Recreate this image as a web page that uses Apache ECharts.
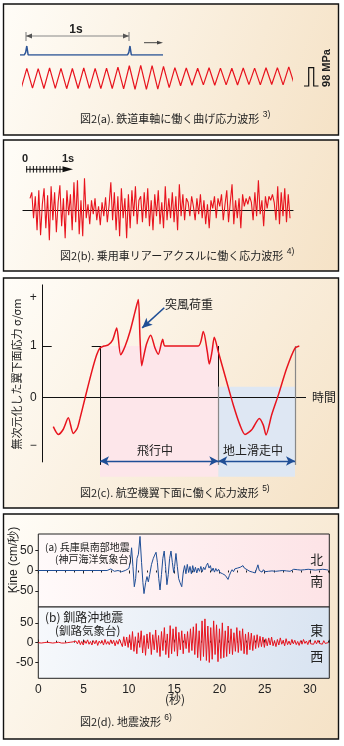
<!DOCTYPE html>
<html><head><meta charset="utf-8">
<script src="https://cdn.jsdelivr.net/npm/echarts@6/dist/echarts.min.js"></script>
<style>html,body{margin:0;padding:0;background:#fff;}#c{width:344px;height:746px;}</style>
</head><body><div id="c"></div>
<script>
// ---------- Panel (a): railway axle bending stress ----------
const pulseTime  = [-0.6, -0.22, -0.1, 0, 0.12, 8.84, 8.96, 9.06, 9.18, 11.96]; // cycles
const pulseLevel = [0, 0, 0.3, 1, 0, 0, 0.3, 1, 0, 0];
// alternating trough / peak values (MPa), one every half cycle starting at -0.5 cycle
const axleStress = [-60, 50,-58, 48,-60, 52,-59, 50,-61, 49,-60, 52,-59, 50,-61, 51,-60, 56,-62,
  64,-64, 66,-65, 65,-63, 60,-55, 54,-45, 52,-42, 50,-40, 53,-42, 51,-40, 50,-41, 52,-39, 51,-40,
  53,-38, 54,-40, 58,-40];
// ---------- Panel (b): car rear axle stress ----------
const rearAxleStress = [12, 18, -8, 14, -20, 20, -25, 6, 22, -18, 15, -30, 24, -10, 18, -22, 8, 25, -16, 12, -28, 20, -5, 16, -20, 28, -12, 30, -24, 10, -26, 32,
  -8, 6, -14, 10, -4, 12, -10, 4, -15, 8, -6, 13, -12, 5,
  28, -10, 18, -20, 14, -26, 22, -8, 12, -28, 16, -18, 20, -6, 24, -14, 10,
  14, -12, 18, -8, 22, -16, 10, -20, 16, -6, 20, -14, 8, -18, 24, -10, 12, -8, 18, -12, 14, -20, 26, -6, 16, -10, 12,
  8, -6, 14, 4, -10, 12, -4, 16, -8, 10, -14, 6, -18, 10, 2, 14, -8, 12, 4, 16, -10, 6, 20,
  -12, 8, 26, -14, 10, -8, 12, -18, 16, 4, 12, 6, 14, 8, -10, 18, -6, 30, -4, 10, -16, 14, 2, 14, 10, 16, 8, -10, 24, -14, 18, -6, 22, -12, 16, -8];
// ---------- Panel (c): aircraft lower wing stress ----------
const wingTime = [10.6,15.6,20.6,25.6,30.6,34.6,37.3,42.3,49,54,57.3,61.3,65.6,70,74,78,82.3,87.3,92.3,95.6,97.3,99,101.3,104,108,112.3,115.6,120,122.3,155.6,160.6,164.6,166.6,169.3,171.6,175.6,184,190.6,197.3,202.3,209,216.6,220.6,223.3,229,235.6,244,252.3,256.6];
const wingStress = [-0.56,-0.71,-0.61,-0.39,-0.69,-0.59,-0.40,-0.01,0.50,0.83,0.96,1.0,1.02,1.12,1.35,0.83,0.99,1.28,1.66,1.90,1.15,0.62,0.83,1.05,1.21,0.96,0.84,1.13,1.0,1.0,1.28,0.89,0.65,0.89,1.17,0.89,0.31,-0.14,-0.53,-0.71,-0.62,-0.40,-0.53,-0.72,-0.33,0.05,0.57,0.96,1.0];
const flightStart = 57.3, flightEnd = 175.6, taxiEnd = 252.3;
const wingTicks = [-0.93, 0, 1, 1.94];
const wingTickLabels = ['−', '0', '1', '+'];
// ---------- Panel (d): earthquake waves ----------
const kobeTime = [0,7.6,7.8,8.0,8.2,8.4,8.6,8.8,9.0,9.2,9.4,9.6,9.8,10.0,10.15,10.3,10.45,10.6,10.75,10.9,11.05,11.23,11.4,11.55,11.67,11.85,12.0,12.15,12.3,12.5,12.7,12.85,13.0,13.15,13.3,13.44,13.6,13.75,13.9,14.05,14.2,14.35,14.5,14.65,14.8,14.95,15.05,15.2,15.35,15.5,15.65,15.84,16.0,16.15,16.3,16.45,16.6,16.75,16.9,17.05,17.2,17.35,17.5,17.65,17.8,17.95,18.1,18.25,18.4,18.55,18.7,18.85,19.0,19.15,19.3,19.45,19.6,19.75,19.9,20.05,20.2,20.35,20.5,20.65,20.8,20.95,21.1,21.25,21.4,21.55,21.7,21.85,22.0,22.15,22.3,22.45,22.6,22.75,22.9,23.05,23.2,23.35,23.5,23.65,23.8,23.95,24.1,24.25,24.4,24.55,24.7,24.85,25.0,25.2,25.4,25.6,25.8,26.0,26.2,26.4,26.6,26.8,27.0,27.2,27.4,27.6,27.8,28.0,28.2,28.4,28.6,28.8,29.0,29.2,29.4,29.6,29.8,30.0,30.2,30.4,30.6,30.8,31.0,31.2,31.4,31.6,31.8,32.0];
const kobeVel = [0,0,2,4,1,-2,-3,0,-1,-3,-1,0,2,5,20,56,10,-40,-20,30,40,84,20,-30,-57,-30,-15,-28,-10,15,30,38,45,20,-20,-48,-10,30,48,10,-35,-10,30,48,20,-5,10,42,10,-20,-30,-40,-5,12,-8,15,-5,10,-8,12,-4,8,-6,6,-2,10,-3,8,2,12,18,6,12,-2,6,-4,5,-2,3,-5,-2,-8,-6,-12,-16,-22,-12,-4,2,-3,4,0,6,2,8,4,12,6,10,2,5,-2,2,-4,0,-6,-2,14,0,4,-4,2,-3,1,-2,2,-1,1,-2,2,-1,3,0,2,-1,1,-2,2,3,0,2,-1,1,-2,2,0,3,1,2,-1,1,0,2,1,3,0,2,1];
const kushiroStep = 0.16; // s between samples
const kushiroVel = [0,1,-1,1,0,-1,1,-1,0,1,-1,1,0,-1,1,0,-1,2,-1,1,0,-2,1,-1,2,-1,
  4,-3,6,-5,3,-6,5,-2,7,-4,3,-6,5,-3,6,-7,4,-2,5,-6,8,-4,3,-5,7,-3,6,-8,5,-4,9,
  12,-10,15,-8,14,-12,
  20,-18,28,-22,15,-28,25,-12,30,-26,18,-32,22,-15,26,-30,20,-18,
  32,-25,18,-35,28,-20,38,-30,22,-38,43,-28,35,-22,40,-34,26,-18,30,-28,22,-15,28,-25,35,-20,
  40,-30,48,-38,30,-45,55,-35,60,-45,42,-50,38,-42,55,-30,45,-48,35,-40,50,-38,30,-35,42,-28,35,-30,25,-22,38,
  -25,30,-20,35,-28,22,-30,26,-18,24,-20,18,-15,20,-12,16,-10,14,
  -12,10,-8,12,-6,14,-8,5,-10,8,-6,12,-4,6,-8,10,-5,4,-6,8,-3,6,-5,3,-7,5,-4,8,-2,4,-5,6,-3,2,-4,5,-3,6,-2,3,-4,5,-2,3,0];
const quakeTicks = [-50, 0, 50];

const JP = '"Noto Sans CJK JP", "Noto Sans", sans-serif';
const LAT = '"Liberation Sans", Arial, sans-serif';
const RED = '#e8141e', NAVY = '#1f4e96', INK = '#222';

const boxFill = {type:'linear', x:0, y:0, x2:1, y2:1, colorStops:[{offset:0,color:'#fffdf8'},{offset:1,color:'#f5e2c6'}]};
function box(y, h) {
  return {type:'rect', z:-10, shape:{x:3.5, y:y, width:335, height:h}, style:{fill:boxFill, stroke:'#111', lineWidth:1.4}};
}
function txt(x, y, s, size, opt) {
  opt = opt || {};
  return {type:'text', z:50, x:x, y:y, rotation: opt.rot || 0,
    style:{text:s, fontSize:size, fontFamily: opt.font || JP, fontWeight: opt.bold ? 'bold' : 'normal', fill: opt.color || INK,
      align: opt.align || 'left', verticalAlign:'middle', textAlign: opt.align || 'left', textVerticalAlign:'middle'}};
}
function cap(x, y, main, sup) {
  return {type:'text', z:50, x:x, y:y, style:{
    text:'{m|' + main + '}{s|' + sup + '}', fontFamily: JP, fill: INK, verticalAlign:'middle', textVerticalAlign:'middle',
    rich:{m:{fontSize:11, fontFamily:JP, color:'#1a1a1a'}, s:{fontSize:8.5, fontFamily:LAT, color:'#1a1a1a', padding:[0,0,8,1]}}}};
}
function line(x1,y1,x2,y2,color,w){ return {type:'line', z:40, shape:{x1,y1,x2,y2}, style:{stroke:color, lineWidth:w||1}}; }
function tri(pts,color){ return {type:'polygon', z:40, shape:{points:pts}, style:{fill:color}}; }

const graphics = [
  box(4,131), box(140,131), box(278,230), box(514,225),
  // panel a annotations
  line(26,36,129,36,'#888',1), line(26,32,26,41,'#777',1), line(129,32,129,41,'#777',1),
  tri([[26,36],[32,33.6],[32,38.4]],'#555'), tri([[129,36],[123,33.6],[123,38.4]],'#555'),
  txt(76,30,'1s',12,{font:LAT,bold:true,align:'center'}),
  line(144,42.7,158,42.7,'#444',1), tri([[163,42.7],[157,40.8],[157,44.6]],'#444'),
  {type:'polyline', z:40, shape:{points:[[304,86],[308.7,86],[308.7,67.7],[313.7,67.7],[313.7,86],[318.5,86]]}, style:{stroke:'#111', lineWidth:1.2, fill:null}},
  txt(326.5,68,'98 MPa',11,{font:LAT,bold:true,align:'center',rot:Math.PI/2}),
  cap(80,119,'図2(a). 鉄道車軸に働く曲げ応力波形 ','3)'),
  // panel b annotations
  txt(25,159,'0',11,{font:LAT,bold:true,align:'center'}), txt(68,159,'1s',11,{font:LAT,bold:true,align:'center'}),
  line(26,169.3,64,169.3,'#111',1), tri([[73,169.3],[62.5,166.3],[62.5,172.3]],'#111'),
  cap(60,256,'図2(b). 乗用車リアーアクスルに働く応力波形 ','4)'),
  // panel c annotations
  txt(16.5,374,'無次元化した翼下面応力 σ/σm',11,{align:'center',rot:Math.PI/2}),
  txt(312,397.7,'時間',12), txt(189,304.3,'突風荷重',12,{align:'center'}),
  txt(155,450,'飛行中',12,{align:'center'}), txt(253,450,'地上滑走中',12,{align:'center'}),
  cap(80,492.7,'図2(c). 航空機翼下面に働く応力波形 ','5)'),
  // panel d annotations
  txt(13.3,560,'Kine (cm/秒)',12,{font:LAT,align:'center',rot:Math.PI/2}),
  txt(45,547,'(a) 兵庫県南部地震',10), txt(55,559,'(神戸海洋気象台)',10),
  txt(316.7,559.3,'北',13,{align:'center'}), txt(316.7,580.7,'南',13,{align:'center'}),
  txt(45,617.3,'(b) 釧路沖地震',12), txt(55,631,'(釧路気象台)',11.5),
  txt(316.7,630,'東',13,{align:'center'}), txt(316.7,655.7,'西',13,{align:'center'}),
  txt(175,699.3,'(秒)',12,{align:'center'}),
  cap(80,721.7,'図2(d). 地震波形 ','6)')
];
for (let i = 0; i <= 10; i++) { const x = 26.7 + i * 3.33; graphics.push(line(x,166,x,172.6,'#111',1)); }

const hidden = {show:false};
function hAxis(grid, min, max, extra) {
  return Object.assign({type:'value', gridIndex:grid, min, max, axisLine:hidden, axisTick:hidden, axisLabel:hidden, splitLine:hidden}, extra||{});
}
const pinkBg = {type:'linear',x:0,y:0,x2:1,y2:0,colorStops:[{offset:0,color:'#fffafa'},{offset:1,color:'#fde3e6'}]};
const blueBg = {type:'linear',x:0,y:0,x2:1,y2:1,colorStops:[{offset:0,color:'#f7f9fc'},{offset:1,color:'#d8e3f1'}]};
const quakeY = (grid) => ({type:'value', gridIndex:grid, min:-90, max:90, axisLine:hidden, splitLine:hidden,
  axisTick:{show:true, inside:false, length:3, customValues:quakeTicks, lineStyle:{color:INK}},
  axisLabel:{show:true, customValues:quakeTicks, fontSize:12, fontFamily:LAT, color:INK, margin:5}});

const mlBase = {silent:true, animation:false, label:{show:false}, symbol:'none'};
const seg = (a,b) => [{coord:a},{coord:b}];

const option = {
  animation:false,
  backgroundColor:'#fff',
  graphic: graphics,
  grid: [
    {left:20, top:46, width:143, height:9, outerBoundsMode:'none'},
    {left:23, top:60, width:268.3, height:35, outerBoundsMode:'none'},
    {left:23, top:170.3, width:270, height:80, outerBoundsMode:'none'},
    {left:42.7, top:284.5, width:263.3, height:192.3, outerBoundsMode:'none'},
    {left:38.3, top:534, width:291, height:73, show:true, backgroundColor:pinkBg, borderColor:'#222', borderWidth:1, outerBoundsMode:'none'},
    {left:38.3, top:607, width:291, height:71.3, show:true, backgroundColor:blueBg, borderColor:'#222', borderWidth:1, outerBoundsMode:'none'}
  ],
  xAxis: [
    hAxis(0,-0.597,11.96), hAxis(1,-0.334,23.22),
    hAxis(2,-4,149.7,{axisLine:{show:true, onZero:true, lineStyle:{color:'#111', width:1.2}}}),
    hAxis(3,0,263.3),
    {type:'value', gridIndex:4, min:0, max:32.13, interval:5, position:'top', axisLine:hidden, axisLabel:hidden, splitLine:hidden,
      axisTick:{show:true, inside:true, length:3, lineStyle:{color:INK}}, minorTick:{show:true, splitNumber:5, length:2, lineStyle:{color:INK}}},
    {type:'value', gridIndex:5, min:0, max:32.13, interval:5, axisLine:hidden, splitLine:hidden,
      axisTick:{show:true, inside:true, length:3, lineStyle:{color:INK}}, minorTick:{show:true, splitNumber:5, length:2, lineStyle:{color:INK}},
      axisLabel:{show:true, fontSize:12, fontFamily:LAT, color:INK, margin:5, showMaxLabel:false}}
  ],
  yAxis: [
    hAxis(0,0,1), hAxis(1,-95.2,95.2), hAxis(2,-40,40),
    {type:'value', gridIndex:3, min:-1.53, max:2.19, axisLine:hidden, axisTick:hidden, splitLine:hidden,
      axisLabel:{show:true, customValues:wingTicks, margin:6, fontSize:12, fontFamily:LAT, color:INK,
        formatter:(v)=> wingTickLabels[wingTicks.indexOf(v)] ?? ''}},
    quakeY(4), quakeY(5)
  ],
  series: [
    {type:'line', xAxisIndex:0, yAxisIndex:0, symbol:'none', lineStyle:{color:'#2d5597', width:1.5},
      data: pulseTime.map((t,i)=>[t,pulseLevel[i]])},
    {type:'line', xAxisIndex:1, yAxisIndex:1, symbol:'none', lineStyle:{color:RED, width:1.2},
      data: axleStress.map((v,i)=>[-0.5 + i*0.5, v])},
    {type:'line', xAxisIndex:2, yAxisIndex:2, symbol:'none', z:3, lineStyle:{color:RED, width:1.1},
      data: rearAxleStress.map((v,i)=>[i,v])},
    {type:'line', xAxisIndex:3, yAxisIndex:3, symbol:'none', smooth:0.25, z:6, lineStyle:{color:RED, width:1.5},
      data: wingTime.map((t,i)=>[t,wingStress[i]]),
      markArea:{silent:true, data:[
        [{coord:[flightStart,1], itemStyle:{color:'#fde6ea'}},{coord:[flightEnd,-1.53]}],
        [{coord:[flightEnd,0.21], itemStyle:{color:'#dee7f3'}},{coord:[taxiEnd,-1.53]}]]}},
    {type:'line', xAxisIndex:3, yAxisIndex:3, data:[],
      markLine:Object.assign({}, mlBase, {lineStyle:{color:'#111', width:1, type:'solid'}, data:[
        seg([0,-1.25],[0,2.19]), seg([0,0],[263.3,0]), seg([0,1],[9,1]), seg([49,1],[flightStart,1]),
        seg([flightStart,1],[flightStart,-1.30]), seg([flightEnd,1],[flightEnd,0.21])]})},
    {type:'line', xAxisIndex:3, yAxisIndex:3, data:[],
      markLine:Object.assign({}, mlBase, {lineStyle:{color:'#888', width:1.2, type:'solid'}, data:[
        seg([flightEnd,0.21],[flightEnd,-1.30]), seg([taxiEnd,1],[taxiEnd,-1.30])]})},
    {type:'line', xAxisIndex:3, yAxisIndex:3, data:[],
      markLine:Object.assign({}, mlBase, {symbol:['arrow','arrow'], symbolSize:[7,9], lineStyle:{color:NAVY, width:1.3, type:'solid'}, data:[
        seg([flightStart,-1.224],[flightEnd,-1.224]), seg([flightEnd,-1.224],[taxiEnd,-1.224])]})},
    {type:'line', xAxisIndex:3, yAxisIndex:3, data:[],
      markLine:Object.assign({}, mlBase, {symbol:['none','arrow'], symbolSize:[7,10], lineStyle:{color:NAVY, width:1.6, type:'solid'}, data:[
        seg([121.6,1.74],[99.5,1.35])]})},
    {type:'line', xAxisIndex:4, yAxisIndex:4, symbol:'none', lineStyle:{color:NAVY, width:1},
      data: kobeTime.map((t,i)=>[t,kobeVel[i]])},
    {type:'line', xAxisIndex:5, yAxisIndex:5, symbol:'none', lineStyle:{color:RED, width:1},
      data: kushiroVel.map((v,i)=>[i*kushiroStep, v])}
  ]
};
const chart = echarts.init(document.getElementById('c'), null, {renderer:'canvas', width:344, height:746});
chart.setOption(option);
</script></body></html>
